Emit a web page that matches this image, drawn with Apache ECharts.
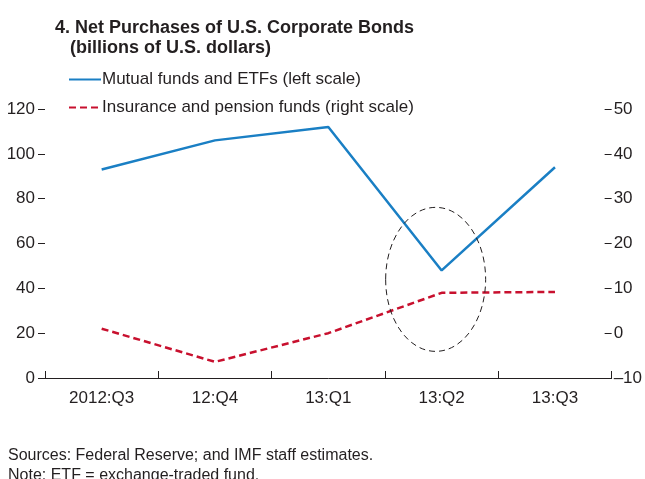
<!DOCTYPE html>
<html>
<head>
<meta charset="utf-8">
<script src="https://cdn.jsdelivr.net/npm/echarts@6/dist/echarts.min.js"></script>
<style>
  html, body { margin: 0; padding: 0; background: #fff; }
  #chart { width: 645px; height: 479px; }
</style>
</head>
<body>
<div id="chart"></div>
<script>
var quarters = ['2012:Q3', '12:Q4', '13:Q1', '13:Q2', '13:Q3']
var mutualFunds = [93, 106, 112, 48, 94]      // left scale
var insurance = [1, -6.4, 0, 9, 9.2]         // right scale
var leftTicks = [0, 120, 20]
var rightTicks = [-10, 50, 10]

var FONT = '"Liberation Sans Narrow", "Liberation Sans", Arial, sans-serif'
var BLUE = '#1a7fc4'
var RED = '#c8102e'

var myChart = echarts.init(document.getElementById('chart'))

var option = {
  backgroundColor: '#fff',
  textStyle: { fontFamily: FONT },
  animation: false,
  title: {
    text: '4. Net Purchases of U.S. Corporate Bonds\n   (billions of U.S. dollars)',
    left: 50,
    top: 13,
    textStyle: { fontFamily: FONT, fontSize: 18, fontWeight: 'bold', color: '#231f20', lineHeight: 20 }
  },
  legend: {
    orient: 'vertical',
    left: 63,
    top: 66,
    itemWidth: 32,
    itemHeight: 14,
    itemGap: 11,
    itemStyle: { opacity: 0 },
    textStyle: { fontFamily: FONT, fontSize: 17, color: '#231f20', padding: [0, 0, 0, -4] },
    data: ['Mutual funds and ETFs (left scale)', 'Insurance and pension funds (right scale)']
  },
  grid: { left: 45, right: 32, top: 109, bottom: 101 },
  xAxis: {
    type: 'category',
    data: quarters,
    boundaryGap: true,
    axisLine: { lineStyle: { color: '#231f20', width: 1 } },
    axisTick: { show: true, inside: true, length: 7, lineStyle: { color: '#231f20' } },
    axisLabel: { fontFamily: FONT, fontSize: 17, color: '#231f20', margin: 12 }
  },
  yAxis: [{
    type: 'value',
    min: leftTicks[0], max: leftTicks[1], interval: leftTicks[2],
    axisLine: { show: false },
    axisTick: { show: true, length: 7, lineStyle: { color: '#231f20' } },
    splitLine: { show: false },
    axisLabel: { fontFamily: FONT, fontSize: 17, color: '#231f20', margin: 10 }
  }, {
    type: 'value',
    min: rightTicks[0], max: rightTicks[1], interval: rightTicks[2],
    axisLine: { show: false },
    axisTick: { show: true, inside: true, length: 7, lineStyle: { color: '#231f20' } },
    splitLine: { show: false },
    axisLabel: {
      fontFamily: FONT, fontSize: 17, color: '#231f20', margin: 2,
      formatter: function (v) { return v < 0 ? '\u2013' + Math.abs(v) : String(v) }
    }
  }],
  series: [{
    name: 'Mutual funds and ETFs (left scale)',
    type: 'line',
    yAxisIndex: 0,
    data: mutualFunds,
    symbol: 'none',
    lineStyle: { color: BLUE, width: 2.5 },
    itemStyle: { color: BLUE }
  }, {
    name: 'Insurance and pension funds (right scale)',
    type: 'line',
    yAxisIndex: 1,
    data: insurance,
    symbol: 'none',
    lineStyle: { color: RED, width: 2.5, type: [7, 4] },
    itemStyle: { color: RED }
  }]
}
myChart.setOption(option)

// dashed ellipse around the 13:Q2 trough, plus the notes
var c = myChart.convertToPixel({ xAxisIndex: 0, yAxisIndex: 0 }, ['13:Q2', 44])
myChart.setOption({
  graphic: [{
    type: 'text',
    left: 8,
    top: 446,
    style: {
      text: 'Sources: Federal Reserve; and IMF staff estimates.\nNote: ETF = exchange-traded fund.',
      font: '16px ' + FONT,
      fill: '#231f20',
      lineHeight: 20
    }
  }, {
    type: 'ellipse',
    shape: { cx: c[0] - 6, cy: c[1], rx: 50, ry: 72 },
    style: { fill: 'none', stroke: '#231f20', lineWidth: 1, lineDash: [6, 4] },
    z: 5
  }]
})
</script>
</body>
</html>
